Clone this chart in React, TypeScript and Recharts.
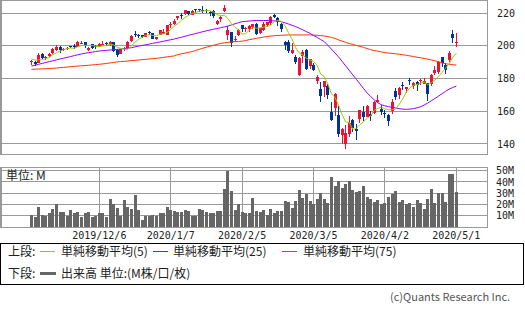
import React from 'react';
import { ComposedChart, Bar, Line, XAxis, YAxis, CartesianGrid } from 'recharts';

const DATES = [
  '2019/11/8','2019/11/11','2019/11/12','2019/11/13','2019/11/14','2019/11/15','2019/11/18','2019/11/19','2019/11/20','2019/11/21',
  '2019/11/22','2019/11/25','2019/11/26','2019/11/27','2019/11/29','2019/12/2','2019/12/3','2019/12/4','2019/12/5','2019/12/6',
  '2019/12/9','2019/12/10','2019/12/11','2019/12/12','2019/12/13','2019/12/16','2019/12/17','2019/12/18','2019/12/19','2019/12/20',
  '2019/12/23','2019/12/24','2019/12/26','2019/12/27','2019/12/30','2019/12/31','2020/1/2','2020/1/3','2020/1/6','2020/1/7',
  '2020/1/8','2020/1/9','2020/1/10','2020/1/13','2020/1/14','2020/1/15','2020/1/16','2020/1/17','2020/1/21','2020/1/22',
  '2020/1/23','2020/1/24','2020/1/27','2020/1/28','2020/1/29','2020/1/30','2020/1/31','2020/2/3','2020/2/4','2020/2/5',
  '2020/2/6','2020/2/7','2020/2/10','2020/2/11','2020/2/12','2020/2/13','2020/2/14','2020/2/18','2020/2/19','2020/2/20',
  '2020/2/21','2020/2/24','2020/2/25','2020/2/26','2020/2/27','2020/2/28','2020/3/2','2020/3/3','2020/3/4','2020/3/5',
  '2020/3/6','2020/3/9','2020/3/10','2020/3/11','2020/3/12','2020/3/13','2020/3/16','2020/3/17','2020/3/18','2020/3/19',
  '2020/3/20','2020/3/23','2020/3/24','2020/3/25','2020/3/26','2020/3/27','2020/3/30','2020/3/31','2020/4/1','2020/4/2',
  '2020/4/3','2020/4/6','2020/4/7','2020/4/8','2020/4/9','2020/4/13','2020/4/14','2020/4/15','2020/4/16','2020/4/17',
  '2020/4/20','2020/4/21','2020/4/22','2020/4/23','2020/4/24','2020/4/27','2020/4/28','2020/4/29','2020/4/30','2020/5/1',
];

const OPEN = [
  189.9,190.0,189.6,195.2,192.6,193.5,195.4,197.5,199.2,197.3,
  198.3,199.6,200.0,199.5,201.0,202.0,197.5,201.0,200.0,199.6,
  200.6,201.7,200.2,202.0,197.6,194.8,198.0,198.5,202.6,207.0,
  206.8,206.3,205.6,208.7,207.9,204.0,206.8,207.2,206.7,212.8,
  213.0,217.0,219.0,219.6,221.0,219.0,222.6,222.4,222.0,222.0,
  220.7,221.4,213.1,216.1,221.0,206.5,208.4,203.4,206.6,212.5,
  210.5,210.3,211.5,213.0,208.0,209.5,212.8,213.6,218.5,217.0,
  213.3,202.0,202.5,195.6,193.3,182.4,194.0,197.6,187.6,188.2,
  178.6,173.7,174.6,175.7,159.8,161.8,157.6,145.7,139.8,146.4,
  154.5,149.0,155.2,159.3,156.7,158.2,159.2,165.4,161.6,158.9,
  157.7,160.1,172.3,169.8,175.9,173.7,178.9,175.2,177.9,178.7,
  176.9,177.2,176.6,183.2,184.0,193.0,188.5,191.0,207.0,201.6,
];
const HIGH = [
  191.5,190.5,195.5,195.8,194.0,195.6,198.9,200.6,199.6,198.8,
  199.4,200.0,200.8,203.1,203.0,202.3,199.0,201.2,200.2,201.6,
  203.1,202.0,203.1,202.2,197.8,198.0,199.3,203.0,206.5,208.9,
  206.9,206.8,207.8,208.9,207.9,205.6,209.8,210.4,212.8,214.6,
  216.2,218.4,219.9,222.0,221.3,221.8,222.7,222.6,224.0,222.6,
  221.3,222.0,216.0,218.4,224.8,212.0,208.7,205.8,210.0,212.7,
  211.2,212.5,213.5,213.9,211.0,214.4,214.8,218.0,219.3,217.8,
  214.1,203.2,203.5,201.5,194.6,192.9,197.3,197.8,191.8,189.5,
  182.0,177.8,178.3,176.9,165.4,171.0,163.0,150.0,151.5,156.9,
  155.0,152.4,161.0,162.9,164.0,160.1,166.4,170.0,163.6,161.0,
  158.3,167.6,173.9,175.0,177.8,175.0,180.3,177.7,178.2,179.5,
  180.0,177.4,183.0,187.9,190.6,193.4,189.5,197.0,209.7,207.5,
];
const LOW = [
  188.5,187.8,189.2,192.0,191.5,193.0,194.8,197.0,195.8,196.6,
  197.6,198.7,198.3,199.4,200.9,198.6,196.6,197.8,198.0,199.2,
  200.5,199.8,200.1,196.0,193.3,194.7,196.9,198.3,202.1,205.3,
  205.0,204.5,205.2,206.6,203.9,203.6,206.3,206.9,206.5,211.0,
  212.6,216.0,216.5,219.0,218.8,218.9,220.3,220.6,220.2,220.3,
  218.3,216.9,212.6,214.6,220.5,203.7,199.0,202.4,206.1,208.4,
  208.5,208.6,210.5,206.5,206.9,209.0,211.4,212.8,217.0,212.0,
  208.5,197.6,195.6,194.8,189.0,181.8,189.2,185.1,185.5,184.5,
  176.7,165.6,168.5,167.3,154.0,156.9,144.5,139.8,137.1,144.5,
  147.4,142.3,152.7,153.8,156.7,154.3,158.1,164.8,157.7,155.6,
  150.8,158.4,166.9,167.6,173.0,171.0,176.0,173.8,172.5,175.9,
  176.7,166.5,175.6,181.9,182.8,186.9,182.5,190.0,201.6,199.5,
];
const CLOSE = [
  190.8,189.0,194.5,192.6,193.3,195.1,198.2,199.3,197.5,197.9,
  198.8,199.4,199.0,202.0,201.6,199.7,198.8,198.7,199.2,201.1,
  201.3,200.9,202.3,196.8,194.1,197.9,198.4,202.5,206.1,206.3,
  206.2,205.1,207.8,208.1,204.4,205.3,209.8,208.7,212.6,213.1,
  215.2,218.3,218.1,221.9,219.1,221.2,221.8,222.1,221.4,221.3,
  219.8,217.9,214.9,217.8,223.2,209.5,201.9,204.2,209.8,210.1,
  210.9,212.3,213.1,207.2,210.8,213.1,214.2,217.8,217.5,214.6,
  210.2,200.7,196.8,197.2,189.8,192.5,196.4,185.9,191.8,185.2,
  181.1,169.5,178.2,170.2,154.5,170.3,146.0,149.4,147.0,153.1,
  149.7,148.1,161.0,156.2,163.3,156.8,165.9,166.8,159.6,158.2,
  154.2,165.6,168.8,174.3,175.2,174.8,178.2,177.0,176.3,179.2,
  178.2,170.8,182.3,185.1,190.1,189.5,185.0,195.5,204.7,202.3,
];
const VOLUME = [
  11,9,18,11,10,12,16,20,13,13,
  10,15,12,13,9,12,13,9,10,12,
  12,9,25,20,17,10,24,18,16,28,
  15,6,10,10,11,10,12,12,18,15,
  14,13,13,15,14,10,10,16,15,13,
  12,12,14,14,34,50,32,15,20,13,
  12,12,26,14,13,15,11,16,12,14,
  14.5,23,22,17,23,33,26,29,23,20,
  25,30,25,21,44,36,41,35,38.5,41,
  33,31,32,36,27,25,22,24,20,21,
  27,29,32,22,24,20,21,18,24,21,
  16,25,34,21,30,30,22,47,47,31,
];
const MA5 = [
  192.0,191.2,191.3,191.5,192.0,192.9,194.7,195.7,196.7,197.6,
  198.3,198.6,198.5,199.4,200.2,200.3,200.2,200.2,199.6,199.5,
  199.8,200.2,201.0,200.5,199.1,198.4,197.9,197.9,199.8,202.2,
  203.9,205.2,206.3,206.7,206.3,206.1,207.1,207.3,208.2,209.9,
  211.9,213.6,215.5,217.3,218.5,219.7,220.4,221.2,221.1,221.6,
  221.3,220.5,219.1,218.3,218.7,216.7,213.5,211.3,209.7,207.1,
  207.4,209.5,211.2,210.7,210.9,211.3,211.7,212.6,214.7,215.4,
  214.9,212.2,208.0,203.9,198.9,195.4,194.5,192.4,191.3,190.4,
  188.1,182.7,181.2,176.8,170.7,168.5,163.8,158.1,153.4,153.2,
  149.0,149.5,151.8,153.6,155.7,157.1,160.6,161.8,162.5,161.5,
  160.9,160.9,161.3,164.2,167.6,171.7,174.3,175.9,176.3,177.1,
  177.8,176.3,177.4,179.1,181.3,183.6,186.4,189.0,193.0,195.4,
];
const MA25 = [
  187.6,188.1,188.7,189.2,189.8,190.3,190.8,191.4,191.9,192.4,
  192.9,193.4,194.0,194.5,195.0,195.4,195.8,196.1,196.5,196.8,
  197.0,197.2,197.4,197.6,197.8,198.0,198.3,198.5,198.8,199.3,
  199.8,200.2,200.6,201.0,201.5,201.9,202.3,202.8,203.2,203.7,
  204.1,204.7,205.2,205.8,206.4,206.9,207.5,208.0,208.6,209.1,
  209.6,210.1,210.5,211.0,211.5,212.0,212.7,213.4,214.1,214.7,
  214.9,215.1,215.3,215.4,215.4,215.4,215.4,215.3,215.2,215.0,
  214.7,214.0,213.3,212.5,211.7,210.7,209.7,208.6,207.6,206.3,
  205.1,203.8,202.5,200.3,198.0,195.6,193.2,190.5,187.7,185.0,
  182.2,179.5,176.7,173.9,171.2,169.0,167.0,165.2,164.0,163.3,
  162.8,162.4,162.0,161.6,161.3,161.2,161.3,161.6,162.1,162.7,
  163.8,165.0,166.4,167.8,169.2,170.7,172.2,173.5,174.5,175.4,
];
const MA75 = [
  185.6,185.7,185.8,185.9,186.0,186.1,186.2,186.4,186.6,186.8,
  187.0,187.2,187.4,187.6,187.8,187.9,188.1,188.3,188.5,188.7,
  188.9,189.2,189.5,189.8,190.1,190.3,190.5,190.7,190.9,191.1,
  191.3,191.5,191.7,191.9,192.1,192.3,192.6,192.9,193.2,193.5,
  193.8,194.6,195.1,195.5,196.0,196.4,197.1,197.8,198.5,199.1,
  199.7,200.3,200.9,201.4,201.8,202.1,202.3,202.5,202.6,202.8,
  203.2,203.7,204.1,204.5,204.9,205.3,205.6,205.9,206.1,206.3,
  206.4,206.5,206.6,206.6,206.6,206.6,206.6,206.6,206.6,206.5,
  206.4,206.2,206.0,205.6,205.1,204.5,203.6,202.8,202.1,201.4,
  200.8,200.2,199.6,199.0,198.3,197.6,197.1,196.7,196.2,195.8,
  195.6,195.3,195.1,194.8,194.5,194.2,193.8,193.4,193.0,192.6,
  192.3,191.8,191.3,190.8,190.3,189.5,189.0,188.7,188.4,188.2,
];

const DATE_TICKS = ['2019/12/6', '2020/1/7', '2020/2/5', '2020/3/5', '2020/4/2', '2020/5/1'];
const PRICE_TICKS = [140, 160, 180, 200, 220];
const VOLUME_TICKS = [10, 20, 30, 40, 50];

const RED = '#ee1133';
const BLUE = '#003399';
const C_MA5 = '#99cc00';
const C_MA25 = '#9900ff';
const C_MA75 = '#ff3300';
const GRID = '#999999';
const VOL = '#666666';
const NUM_FONT = '"DejaVu Sans Mono", monospace';
const JP_FONT = '"Noto Sans CJK JP", sans-serif';

const data = DATES.map((date, i) => ({
  date,
  open: OPEN[i],
  high: HIGH[i],
  low: LOW[i],
  close: CLOSE[i],
  range: [LOW[i], HIGH[i]],
  volume: VOLUME[i],
  ma5: MA5[i],
  ma25: MA25[i],
  ma75: MA75[i],
}));

const Candle = (props: any) => {
  const { x, y, width, height, payload } = props;
  if (!payload) return null;
  const top = Math.min(y, y + height);
  const h = Math.abs(height);
  const { open, close, high, low } = payload;
  const k = h / (high - low || 1);
  const yO = top + (high - open) * k;
  const yC = top + (high - close) * k;
  const cx = x + width / 2;
  const color = close >= open ? RED : BLUE;
  const bw = 3;
  const bt = Math.min(yO, yC);
  const bh = Math.max(Math.abs(yO - yC), 1);
  return (
    <g shapeRendering="crispEdges">
      <line x1={cx} x2={cx} y1={top} y2={top + h} stroke={color} strokeWidth={1} />
      <rect x={cx - bw / 2} y={bt} width={bw} height={bh} fill={color} />
    </g>
  );
};

const VolBar = (props: any) => {
  const { x, y, width, height } = props;
  const top = Math.min(y, y + height);
  return <rect x={x} y={top} width={width} height={Math.abs(height)} fill={VOL} shapeRendering="crispEdges" />;
};

const PriceTick = (props: any) => {
  const { x, y, payload } = props;
  return (
    <text x={x + 2} y={y} dy={3.6} fontFamily={NUM_FONT} fontSize={10} fill="#222" textAnchor="start">
      {payload.value}
    </text>
  );
};

const VolTick = (props: any) => {
  const { x, y, payload } = props;
  return (
    <text x={x + 1} y={y} dy={3.6} fontFamily={NUM_FONT} fontSize={10} fill="#222" textAnchor="start">
      {payload.value + 'M'}
    </text>
  );
};

const DateTick = (props: any) => {
  const { x, y, payload } = props;
  return (
    <text x={x} y={y} dy={4} fontFamily={NUM_FONT} fontSize={10} fill="#222" textAnchor="middle">
      {payload.value}
    </text>
  );
};

const X_PAD = { left: 28.7, right: 28.9 };

const jpText = (left: number, centerY: number, text: string, size = 12, color = '#222') => (
  <span
    style={{
      position: 'absolute',
      left,
      top: centerY - 8,
      height: 16,
      lineHeight: '16px',
      fontSize: size,
      fontFamily: JP_FONT,
      color,
      whiteSpace: 'nowrap',
    }}
  >
    {text}
  </span>
);

const sample = (left: number, centerY: number, color: string, thick = 1, w = 15) => (
  <div style={{ position: 'absolute', left, top: centerY - thick / 2, width: w, height: thick, background: color }} />
);

export default function App() {
  return (
    <div style={{ position: 'fixed', left: 0, top: 0, width: 525, height: 310, background: '#fff', overflow: 'hidden' }}>
      <div style={{ position: 'absolute', left: 0, top: 0 }}>
        <ComposedChart width={525} height={160} data={data} margin={{ top: 0, right: 0, bottom: 6, left: 1 }}>
          <CartesianGrid stroke={GRID} strokeWidth={1} shapeRendering="crispEdges" />
          <XAxis
            dataKey="date"
            type="category"
            ticks={DATE_TICKS}
            interval={0}
            padding={X_PAD}
            height={0}
            tick={false}
            axisLine={false}
            tickLine={false}
          />
          <YAxis
            orientation="right"
            domain={[133.89, 227.94]}
            allowDataOverflow
            ticks={PRICE_TICKS}
            width={38}
            axisLine={false}
            tickLine={false}
            tick={<PriceTick />}
            interval={0}
          />
          <Bar dataKey="range" shape={<Candle />} isAnimationActive={false} />
          <Line dataKey="ma75" stroke={C_MA75} strokeWidth={1} dot={false} isAnimationActive={false} />
          <Line dataKey="ma25" stroke={C_MA25} strokeWidth={1} dot={false} isAnimationActive={false} />
          <Line dataKey="ma5" stroke={C_MA5} strokeWidth={1} dot={false} isAnimationActive={false} />
        </ComposedChart>
      </div>
      <div style={{ position: 'absolute', left: 0, top: 0, width: 488, height: 155, border: `1px solid ${GRID}`, boxSizing: 'border-box', pointerEvents: 'none' }} />

      <div style={{ position: 'absolute', left: 0, top: 160 }}>
        <ComposedChart width={525} height={87} data={data} margin={{ top: 7, right: 0, bottom: 0, left: 1 }}>
          <CartesianGrid stroke={GRID} strokeWidth={1} shapeRendering="crispEdges" />
          <XAxis
            dataKey="date"
            type="category"
            ticks={DATE_TICKS}
            interval={0}
            padding={X_PAD}
            height={20}
            tick={<DateTick />}
            axisLine={false}
            tickLine={false}
          />
          <YAxis
            orientation="right"
            domain={[0, 53.3]}
            allowDataOverflow
            ticks={VOLUME_TICKS}
            width={38}
            axisLine={false}
            tickLine={false}
            tick={<VolTick />}
            interval={0}
          />
          <Bar dataKey="volume" shape={<VolBar />} barCategoryGap={0.4} isAnimationActive={false} />
        </ComposedChart>
      </div>
      <div style={{ position: 'absolute', left: 0, top: 167, width: 488, height: 61, border: `1px solid ${GRID}`, boxSizing: 'border-box', pointerEvents: 'none' }} />
      {jpText(6, 175, '単位: M')}

      <div style={{ position: 'absolute', left: 0, top: 243, width: 524, height: 42, border: '1px solid #000', boxSizing: 'border-box' }} />
      {jpText(8, 251, '上段:')}
      {sample(40, 251, C_MA5)}
      {jpText(61, 251, '単純移動平均(5)')}
      {sample(153, 251, C_MA25)}
      {jpText(173, 251, '単純移動平均(25)')}
      {sample(282, 251, C_MA75)}
      {jpText(303, 251, '単純移動平均(75)')}
      {jpText(8, 273, '下段:')}
      {sample(40, 273, VOL, 3, 16)}
      {jpText(61, 273, '出来高 単位:(M株/口/枚)')}

      {jpText(390, 296, '(c)Quants Research Inc.', 11, '#555')}
    </div>
  );
}
